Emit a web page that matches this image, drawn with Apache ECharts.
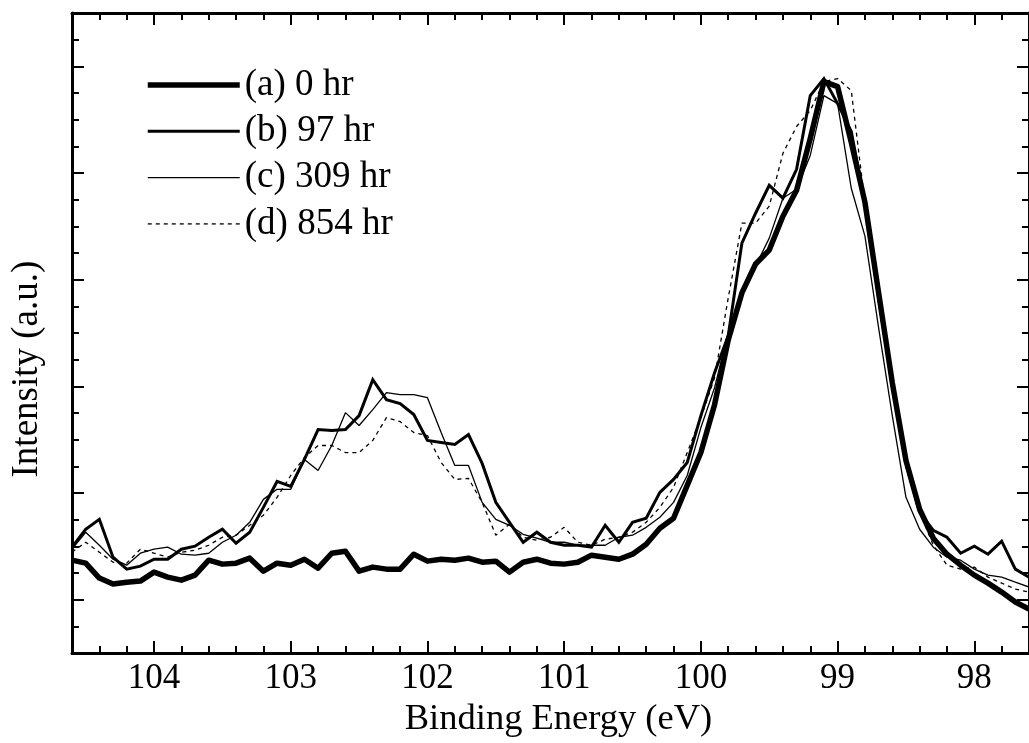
<!DOCTYPE html>
<html>
<head>
<meta charset="utf-8">
<script src="https://cdn.jsdelivr.net/npm/echarts@6/dist/echarts.min.js"></script>
<style>
html,body{margin:0;padding:0;background:#fff;}
#chart{width:1029px;height:743px;}
</style>
</head>
<body>
<div id="chart"></div>
<script>
// Binding energy (eV) of each sample point
const energies = [104.6,104.5,104.4,104.3,104.2,104.1,104.0,103.9,103.8,103.7,103.6,103.5,103.4,103.3,103.2,103.1,103.0,102.9,102.8,102.7,102.6,102.5,102.4,102.3,102.2,102.1,102.0,101.9,101.8,101.7,101.6,101.5,101.4,101.3,101.2,101.1,101.0,100.9,100.8,100.7,100.6,100.5,100.4,100.3,100.2,100.1,100.0,99.9,99.8,99.7,99.6,99.5,99.4,99.3,99.2,99.1,99.0,98.9,98.8,98.7,98.6,98.5,98.4,98.3,98.2,98.1,98.0,97.9,97.8,97.7,97.6];

// Intensities (arbitrary units)
const hr0 = [371,343,203,147,165,175,259,212,184,231,371,334,343,390,268,343,324,380,296,436,455,268,306,287,287,427,362,380,371,390,352,362,259,352,380,343,334,352,418,399,380,427,521,670,764,1072,1380,1829,2436,2876,3147,3278,3595,3838,4324,4857,4810,4287,3726,2876,2035,1306,848,577,427,324,231,156,72,-21,-87];
const hr97 = [493,661,754,399,287,315,380,380,474,502,586,661,530,633,866,1109,1063,1315,1595,1586,1595,1726,2063,1876,1838,1736,1493,1474,1455,1549,1278,913,726,539,633,539,511,511,493,698,539,726,764,1007,1128,1287,1726,2128,2474,3343,3623,3885,3764,4034,4726,4885,4651,4390,3717,2829,2035,1287,820,651,586,436,502,427,549,287,212];
const hr309 = [474,633,511,380,324,436,474,493,427,418,436,539,605,726,941,1035,1035,1315,1212,1446,1754,1633,1782,1941,1922,1922,1894,1567,1259,1259,913,754,698,614,577,539,539,511,511,511,586,605,679,773,913,1165,1614,1988,2502,2866,3128,3390,3764,3848,4165,4726,4651,3857,3408,2549,1726,960,661,493,399,371,287,231,212,165,119];
const hr854 = [446,539,446,352,343,474,436,399,446,464,511,586,605,698,792,960,1165,1334,1446,1446,1380,1380,1493,1707,1670,1567,1539,1287,1128,1137,913,605,707,586,558,586,679,539,511,567,586,633,726,866,1053,1380,1707,2081,2829,3530,3530,3689,4184,4436,4586,4857,4885,4773,3717,2829,1988,1240,820,511,324,287,306,212,156,100,72];

const seriesNames = ['(a) 0 hr', '(b) 97 hr', '(c) 309 hr', '(d) 854 hr'];
const xTitle = 'Binding Energy (eV)';
const yTitle = 'Intensity (a.u.)';

const FONT = 'Liberation Serif';
const pair = arr => arr.map((v, i) => [energies[i], v]);

const xBase = {
  type: 'value', min: 97.6, max: 104.6, inverse: true,
  splitLine: {show: false}, gridIndex: 0
};
const yBase = {
  type: 'value', min: -500, max: 5500,
  splitLine: {show: false}, gridIndex: 0
};
const lineCol = '#000';

const option = {
  animation: false,
  backgroundColor: '#fff',
  grid: {left: 72, right: -8, top: 13, bottom: 88, containLabel: false},
  xAxis: [
    Object.assign({}, xBase, {
      position: 'bottom', interval: 0.2,
      axisLine: {show: true, onZero: false, lineStyle: {color: lineCol, width: 3}},
      axisTick: {show: true, inside: true, length: 7, lineStyle: {color: lineCol, width: 2}},
      axisLabel: {show: false}
    }),
    Object.assign({}, xBase, {
      position: 'bottom', splitNumber: 7,
      axisLine: {show: false, onZero: false},
      axisTick: {show: true, inside: true, length: 12, lineStyle: {color: lineCol, width: 2}},
      axisLabel: {show: true, showMinLabel: false, showMaxLabel: false, color: '#000',
        fontFamily: FONT, fontSize: 35, margin: 8},
      name: xTitle, nameLocation: 'middle', nameGap: 47,
      nameTextStyle: {color: '#000', fontFamily: FONT, fontSize: 36.5, padding: [0, 0, 0, 16]}
    }),
    Object.assign({}, xBase, {
      position: 'top', interval: 0.2,
      axisLine: {show: true, onZero: false, lineStyle: {color: lineCol, width: 3}},
      axisTick: {show: true, inside: true, length: 7, lineStyle: {color: lineCol, width: 2}},
      axisLabel: {show: false}
    }),
    Object.assign({}, xBase, {
      position: 'top', splitNumber: 7,
      axisLine: {show: false, onZero: false},
      axisTick: {show: true, inside: true, length: 12, lineStyle: {color: lineCol, width: 2}},
      axisLabel: {show: false}
    })
  ],
  yAxis: [
    Object.assign({}, yBase, {
      position: 'left', interval: 250,
      axisLine: {show: true, onZero: false, lineStyle: {color: lineCol, width: 3}},
      axisTick: {show: true, inside: true, length: 7, lineStyle: {color: lineCol, width: 2}},
      axisLabel: {show: false}
    }),
    Object.assign({}, yBase, {
      position: 'left', splitNumber: 6,
      axisLine: {show: false, onZero: false},
      axisTick: {show: true, inside: true, length: 12, lineStyle: {color: lineCol, width: 2}},
      axisLabel: {show: false},
      name: yTitle, nameLocation: 'middle', nameGap: 26, nameRotate: 90,
      nameTextStyle: {color: '#000', fontFamily: FONT, fontSize: 37, padding: [0, 72, 0, 0]}
    }),
    Object.assign({}, yBase, {
      position: 'right', interval: 250,
      axisLine: {show: true, onZero: false, lineStyle: {color: lineCol, width: 3}},
      axisTick: {show: true, inside: true, length: 7, lineStyle: {color: lineCol, width: 2}},
      axisLabel: {show: false}
    }),
    Object.assign({}, yBase, {
      position: 'right', splitNumber: 6,
      axisLine: {show: false, onZero: false},
      axisTick: {show: true, inside: true, length: 12, lineStyle: {color: lineCol, width: 2}},
      axisLabel: {show: false}
    })
  ],
  legend: {
    orient: 'vertical', left: 145, top: 66.5,
    itemWidth: 92, itemHeight: 20, itemGap: 9.3,
    padding: 0,
    itemStyle: {color: 'rgba(0,0,0,0)', borderWidth: 0, borderColor: 'rgba(0,0,0,0)'},
    textStyle: {color: '#000', fontFamily: FONT, fontSize: 37, lineHeight: 37},
    data: [
      {name: seriesNames[0], lineStyle: {width: 5.5, color: '#000', type: 'solid'}},
      {name: seriesNames[1], lineStyle: {width: 3, color: '#000', type: 'solid'}},
      {name: seriesNames[2], lineStyle: {width: 1.3, color: '#000', type: 'solid'}},
      {name: seriesNames[3], lineStyle: {width: 1.3, color: '#000', type: [4, 4]}}
    ]
  },
  series: [
    {name: seriesNames[0], type: 'line', data: pair(hr0), symbol: 'none', showSymbol: false,
      xAxisIndex: 0, yAxisIndex: 0, z: 5,
      lineStyle: {color: '#000', width: 5.5, join: 'round'}, itemStyle: {color: '#000'}},
    {name: seriesNames[1], type: 'line', data: pair(hr97), symbol: 'none', showSymbol: false,
      xAxisIndex: 0, yAxisIndex: 0, z: 4,
      lineStyle: {color: '#000', width: 3, join: 'miter'}, itemStyle: {color: '#000'}},
    {name: seriesNames[2], type: 'line', data: pair(hr309), symbol: 'none', showSymbol: false,
      xAxisIndex: 0, yAxisIndex: 0, z: 3,
      lineStyle: {color: '#000', width: 1.3}, itemStyle: {color: '#000'}},
    {name: seriesNames[3], type: 'line', data: pair(hr854), symbol: 'none', showSymbol: false,
      xAxisIndex: 0, yAxisIndex: 0, z: 2,
      lineStyle: {color: '#000', width: 1.3, type: [4, 4]}, itemStyle: {color: '#000'}}
  ]
};

const chart = echarts.init(document.getElementById('chart'), null, {renderer: 'canvas'});
chart.setOption(option);
</script>
</body>
</html>
